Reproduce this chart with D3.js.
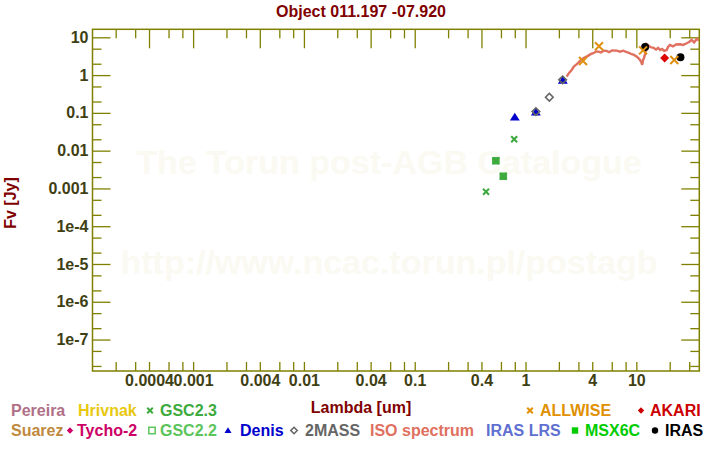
<!DOCTYPE html>
<html>
<head>
<meta charset="utf-8">
<script src="https://cdn.jsdelivr.net/npm/d3@7"></script>
<style>
  body { margin: 0; background: #fff; }
  svg text { font-family: "Liberation Sans", Arial, sans-serif; font-weight: bold; }
</style>
</head>
<body>
<svg id="chart" width="720" height="450"></svg>
<script>
// photometry: wavelength [um] / flux [Jy]
const gsc23Wave = [0.44, 0.79, 0.54, 0.63];
const gsc23Flux = [8.2e-4, 0.020, 0.0054, 0.0021];
const gsc22Wave = [0.54, 0.63];
const gsc22Flux = [0.0054, 0.0021];
const denisWave = [0.80, 1.24, 2.17];
const denisFlux = [0.077, 0.104, 0.73];
const twomassWave = [1.24, 1.64, 2.16];
const twomassFlux = [0.108, 0.26, 0.75];
const allwiseWave = [3.3, 4.6, 11.5, 22];
const allwiseFlux = [2.36, 5.8, 4.5, 2.5];
const akariWave = [18];
const akariFlux = [2.85];
const irasWave = [12, 25];
const irasFlux = [5.5, 2.96];

// ISO spectrum
const isoWave = [2.35, 2.47, 2.61, 2.74, 2.90, 3.10, 3.32, 3.52, 3.69, 3.90, 4.09, 4.33, 4.54, 4.80,
  5.06, 5.41, 5.67, 6.04, 6.65, 7.13, 7.59, 8.19, 8.59, 9.08, 9.53, 10.1, 10.5, 10.8, 11.1, 11.3,
  11.5, 11.7, 12.0, 12.2, 12.4, 13.0, 13.6, 14.2, 15.1, 15.7, 16.4, 17.1, 17.8, 18.8, 19.3, 20.1,
  21.4, 22.8, 24.8, 26.4, 28.5, 29.9, 31.6, 33.2, 35.1, 36.8];
const isoFlux = [0.91, 1.14, 1.37, 1.70, 1.94, 2.37, 2.80, 3.03, 3.28, 3.63, 3.79, 4.23, 4.18, 3.98,
  4.42, 4.37, 4.03, 4.50, 4.45, 4.15, 4.42, 4.03, 3.86, 3.57, 3.42, 3.08, 2.76, 2.52, 2.17, 1.86,
  2.52, 2.80, 3.63, 4.63, 6.56, 5.91, 5.40, 5.34, 4.78, 5.24, 4.63, 4.93, 4.36, 4.63, 5.56, 6.29,
  5.74, 6.48, 6.56, 6.29, 6.97, 7.55, 8.52, 7.31, 9.06, 8.27];

// axis ticks
const xMinorTicks = [2e-4, 3e-4, 6e-4, 8e-4, 2e-3, 3e-3, 6e-3, 8e-3, 0.02, 0.03, 0.06, 0.08,
  0.2, 0.3, 0.6, 0.8, 2, 3, 6, 8, 20, 30];
const xLabelTicks = [4e-4, 1e-3, 4e-3, 0.01, 0.04, 0.1, 0.4, 1, 4, 10];
const xLabels = ["0.0004", "0.001", "0.004", "0.01", "0.04", "0.1", "0.4", "1", "4", "10"];
const yMajorTicks = [10, 1, 0.1, 0.01, 1e-3, 1e-4, 1e-5, 1e-6, 1e-7];
const yLabels = ["10", "1", "0.1", "0.01", "0.001", "1e-4", "1e-5", "1e-6", "1e-7"];
const yMinorTicks = [5, 2, 0.5, 0.2, 0.05, 0.02, 5e-3, 2e-3, 5e-4, 2e-4, 5e-5, 2e-5,
  5e-6, 2e-6, 5e-7, 2e-7, 5e-8, 2e-8];

const legendNames = ["Pereira", "Hrivnak", "GSC2.3", "ALLWISE", "AKARI",
  "Suarez", "Tycho-2", "GSC2.2", "Denis", "2MASS", "ISO spectrum", "IRAS LRS", "MSX6C", "IRAS"];
const legendColors = ["#b07088", "#e8c810", "#3daa3d", "#e09000", "#cc0000",
  "#c08a3e", "#cc0066", "#5cc45c", "#0000cc", "#666666", "#e07060", "#6070d0", "#00cc00", "#000000"];
const legendSymbols = [null, null, "cross", "cross", "diamond",
  null, "diamond", "square-open", "triangle", "diamond-open", null, null, "square", "circle"];
// legend layout: [text x, symbol x, row]
const legendLayout = [[11, 0, 0], [78, 0, 0], [160, 150, 0], [540, 530, 0], [650, 641, 0],
  [11, 0, 1], [77, 70, 1], [160, 152, 1], [240, 228, 1], [305, 294, 1], [370, 0, 1],
  [486, 0, 1], [585, 575, 1], [665, 655, 1]];

const olive = "#808000";
const tickText = "#3f3f14";
const darkRed = "#800000";

const svg = d3.select("#chart");
const margin = { top: 29.3, right: 20.7, bottom: 79, left: 92.5 };
const width = 720, height = 450;

const x = d3.scaleLog().domain([1.236e-4, 37]).range([margin.left, width - margin.right]);
const y = d3.scaleLog().domain([1.47e-8, 16.3]).range([height - margin.bottom, margin.top]);

// watermark
svg.append("text").attr("x", 389).attr("y", 174).attr("text-anchor", "middle")
  .attr("font-size", 34).attr("fill", "#faf9f2").text("The Torun post-AGB Catalogue");
svg.append("text").attr("x", 389).attr("y", 274).attr("text-anchor", "middle")
  .attr("font-size", 34).attr("fill", "#faf9f2").text("http://www.ncac.torun.pl/postagb");

// title + axis titles
svg.append("text").attr("x", 361).attr("y", 17).attr("text-anchor", "middle")
  .attr("font-size", 16).attr("fill", darkRed).text("Object 011.197 -07.920");
svg.append("text").attr("x", 361).attr("y", 413).attr("text-anchor", "middle")
  .attr("font-size", 16).attr("fill", darkRed).text("Lambda [um]");
svg.append("text").attr("transform", "translate(16,203) rotate(-90)").attr("text-anchor", "middle")
  .attr("font-size", 16).attr("fill", darkRed).text("Fv [Jy]");

const x0 = margin.left, x1 = width - margin.right;
const y0 = margin.top, y1 = height - margin.bottom;

function styleAxis(g) {
  g.select(".domain").remove();
  g.selectAll("line").attr("stroke", olive).attr("stroke-width", 1.3);
  g.selectAll("text").attr("fill", tickText).attr("font-size", 16)
    .attr("font-family", "'Liberation Sans', Arial, sans-serif").attr("font-weight", "bold");
}

// bottom axis
svg.append("g").attr("transform", `translate(0,${y1})`)
  .call(d3.axisBottom(x).tickValues(xMinorTicks.concat(xLabelTicks)).tickSize(-9).tickPadding(4)
    .tickFormat(d => { const i = xLabelTicks.indexOf(d); return i >= 0 ? xLabels[i] : ""; }))
  .call(styleAxis);
// top axis
svg.append("g").attr("transform", `translate(0,${y0})`)
  .call(d3.axisTop(x).tickValues(xMinorTicks).tickSize(-9).tickFormat(""))
  .call(styleAxis);
svg.append("g").attr("transform", `translate(0,${y0})`)
  .call(d3.axisTop(x).tickValues(xLabelTicks).tickSize(-19).tickFormat(""))
  .call(styleAxis);
// left axis
svg.append("g").attr("transform", `translate(${x0},0)`)
  .call(d3.axisLeft(y).tickValues(yMajorTicks).tickSize(-18).tickPadding(4)
    .tickFormat((d, i) => yLabels[i]))
  .call(styleAxis);
svg.append("g").attr("transform", `translate(${x0},0)`)
  .call(d3.axisLeft(y).tickValues(yMinorTicks).tickSize(-9).tickFormat(""))
  .call(styleAxis);
// right axis
svg.append("g").attr("transform", `translate(${x1},0)`)
  .call(d3.axisRight(y).tickValues(yMajorTicks).tickSize(-18).tickFormat(""))
  .call(styleAxis);
svg.append("g").attr("transform", `translate(${x1},0)`)
  .call(d3.axisRight(y).tickValues(yMinorTicks).tickSize(-9).tickFormat(""))
  .call(styleAxis);

svg.append("rect").attr("x", x0).attr("y", y0).attr("width", x1 - x0).attr("height", y1 - y0)
  .attr("fill", "none").attr("stroke", olive).attr("stroke-width", 1.5);

svg.append("clipPath").attr("id", "plotclip").append("rect")
  .attr("x", x0).attr("y", y0).attr("width", x1 - x0).attr("height", y1 - y0);
const plot = svg.append("g").attr("clip-path", "url(#plotclip)");

// ISO spectrum
const isoLine = d3.line().x(d => x(d[0])).y(d => y(d[1]));
plot.append("path").datum(d3.zip(isoWave, isoFlux)).attr("d", isoLine)
  .attr("fill", "none").attr("stroke", "#e07060").attr("stroke-width", 2.4);

function drawSymbol(g, kind, cx, cy, s, color) {
  if (kind === "cross") {
    g.append("path").attr("d", `M${cx - s},${cy - s}L${cx + s},${cy + s}M${cx - s},${cy + s}L${cx + s},${cy - s}`)
      .attr("stroke", color).attr("stroke-width", 2).attr("fill", "none");
  } else if (kind === "square" || kind === "square-open") {
    g.append("rect").attr("x", cx - s).attr("y", cy - s).attr("width", 2 * s).attr("height", 2 * s)
      .attr("fill", kind === "square" ? color : "none").attr("stroke", color).attr("stroke-width", kind === "square" ? 0 : 1.5);
  } else if (kind === "diamond" || kind === "diamond-open") {
    g.append("path").attr("d", `M${cx},${cy - s}L${cx + s},${cy}L${cx},${cy + s}L${cx - s},${cy}Z`)
      .attr("fill", kind === "diamond" ? color : "none").attr("stroke", color)
      .attr("stroke-width", kind === "diamond" ? 0 : 1.6);
  } else if (kind === "triangle") {
    g.append("path").attr("d", `M${cx},${cy - s}L${cx + s * 1.1},${cy + s * 0.75}L${cx - s * 1.1},${cy + s * 0.75}Z`)
      .attr("fill", color);
  } else if (kind === "circle") {
    g.append("circle").attr("cx", cx).attr("cy", cy).attr("r", s).attr("fill", color);
  }
}

function drawSeries(wave, flux, kind, size, color) {
  wave.forEach((w, i) => drawSymbol(plot, kind, x(w), y(flux[i]), size, color));
}

drawSeries(gsc22Wave, gsc22Flux, "square", 3.8, "#44b044");
drawSeries(gsc23Wave, gsc23Flux, "cross", 3, "#3da83d");
drawSeries(denisWave, denisFlux, "triangle", 4.5, "#0000cc");
drawSeries(twomassWave, twomassFlux, "diamond-open", 3.8, "#666666");
drawSeries(irasWave, irasFlux, "circle", 4, "#000000");
drawSeries(akariWave, akariFlux, "diamond", 4.5, "#dd0000");
drawSeries(allwiseWave, allwiseFlux, "cross", 4, "#e09010");

// legend
const legend = svg.append("g");
legendNames.forEach((name, i) => {
  const [tx, sx, row] = legendLayout[i];
  const base = row === 0 ? 416 : 436;
  if (legendSymbols[i]) {
    const s = legendSymbols[i] === "cross" ? 2.8 : 3.2;
    drawSymbol(legend, legendSymbols[i], sx, base - 5.5, s, legendColors[i]);
  }
  legend.append("text").attr("x", tx).attr("y", base).attr("font-size", 16)
    .attr("fill", legendColors[i]).text(name);
});
</script>
</body>
</html>
